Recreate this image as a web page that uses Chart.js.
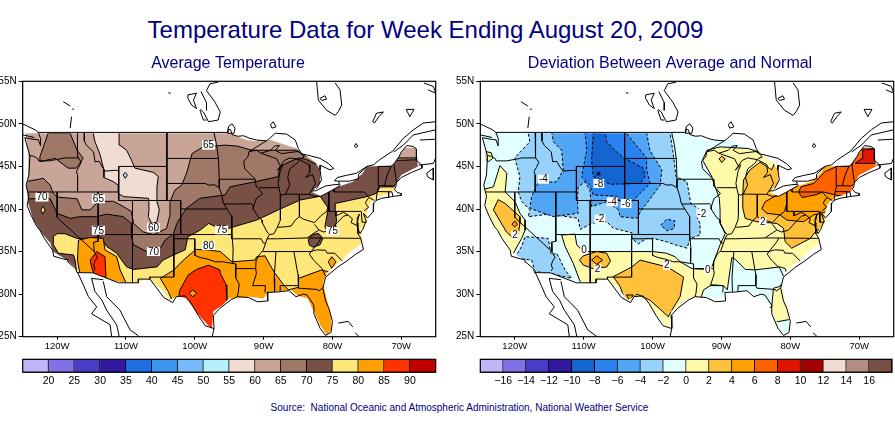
<!DOCTYPE html>
<html><head><meta charset="utf-8">
<style>
html,body{margin:0;padding:0;background:#fff;width:895px;height:423px;overflow:hidden}
canvas{position:absolute}
.t{position:absolute;left:0;width:895px;text-align:center;color:#000080;font-family:"Liberation Sans",Arial,sans-serif;white-space:nowrap}
#main{top:15px;font-size:24px;line-height:30px;left:-22px}
#src{top:401px;font-size:10px;line-height:14px;left:12px}
</style>
<script src="https://cdn.jsdelivr.net/npm/chart.js@4/dist/chart.umd.min.js"></script>
</head><body>
<div class="t" id="main">Temperature Data for Week Ending August 20, 2009</div>
<div class="t" id="src">Source:&nbsp; National Oceanic and Atmospheric Administration, National Weather Service</div>
<canvas id="mapL" width="456" height="305" style="left:0;top:50px"></canvas>
<canvas id="mapR" width="450" height="305" style="left:445px;top:50px"></canvas>
<canvas id="barL" width="458" height="40" style="left:0;top:355px"></canvas>
<canvas id="barR" width="450" height="40" style="left:445px;top:355px"></canvas>
<script>
const xTickValues=[-120,-110,-100,-90,-80,-70];
const yTickValues=[25,30,35,40,45,50,55];
const barLabelsL=['20','25','30','35','40','45','50','55','60','65','70','75','80','85','90'];
const barColorsL=['#c0b4fa','#8270e6','#4b3cc8','#3219a0','#1e6ee6','#3c96f0','#78b9fa','#b4f0fa','#f0dcd2','#c8a596','#a07868','#785046','#ffe678','#ffa000','#ff3200','#c00000'];
const barLabelsR=['−16','−14','−12','−10','−8','−6','−4','−2','0','2','4','6','8','10','12','14','16'];
const barColorsR=['#c0b4fa','#8270e6','#4b3cc8','#3219a0','#1464d2','#2882f0','#50a5f5','#96d2fa','#e1ffff','#fffaaa','#ffc03c','#ffa000','#ff6000','#e11400','#a50000','#f0dcd2','#b48c82','#785046'];

// Land area that carries data (lon, lat)
const landOutline=[[-124.6,48.9],[-124.2,46.7],[-124.2,43.4],[-124.5,42.7],[-124.2,40.7],[-123.45,38.7],[-122.2,37.15],[-121,36],[-120.6,35],[-118.6,34],[-117.4,33.2],[-117,32.6],[-114.8,32.5],[-111.6,31.5],[-109,31.3],[-106.8,31.8],[-105,30.7],[-103.6,29.3],[-102.5,29.8],[-101.2,29.5],[-99.6,27.7],[-98,26.3],[-97.5,26],[-97.3,28],[-96,28.7],[-95,29.5],[-92,29.7],[-90,29.5],[-89.5,30.2],[-86,30.5],[-85,29.8],[-83.6,29.5],[-81.8,26.4],[-80.8,25.2],[-80.2,25.8],[-80.2,27.3],[-81.4,31.4],[-80.8,32.5],[-77,35.2],[-75.7,36],[-75.9,37.5],[-75,38.5],[-75,39.5],[-74.5,40.7],[-73.6,41.3],[-71.2,42],[-70.9,42.8],[-70,44],[-67.6,45],[-67.8,47.2],[-69.5,47.2],[-71.2,45.1],[-75,45],[-75.6,44.2],[-77,43.2],[-79.2,42.6],[-81.7,41.5],[-83,42],[-81.8,43],[-81.8,44.6],[-82.5,45.5],[-84,46.3],[-85.2,47.1],[-89,48.1],[-91.5,48],[-92.5,48.1],[-95,48.9]];
const outerBox=[[-130,60],[-60,60],[-60,20],[-130,20],[-130,60]];

// Coast, lake and border lines
const coastPacific=[[-117.12,32.53],[-117.3,33],[-118.4,33.75],[-118.5,34.03],[-119.2,34.15],[-120.5,34.45],[-120.65,35.15],[-121.9,36.6],[-122.5,37.5],[-123,38],[-123.8,39.3],[-124.35,40.4],[-124.1,41.5],[-124.5,42.8],[-124.1,44],[-123.95,46.2],[-124.7,48.38],[-123.2,48.15],[-122.75,48.15],[-122.4,47.4],[-122.4,48.3],[-122.75,49],[-123.2,49.3],[-124.5,49.8],[-125.5,50.2]];
const coastIsland=[[-123.3,48.4],[-125.5,48.8]];
const coastAtlantic=[[-67,45.15],[-67,44.8],[-68.5,44.3],[-70,43.7],[-70.7,43.1],[-70.8,42.6],[-71,42.3],[-70.6,41.95],[-70,41.8],[-70,41.6],[-71,41.5],[-71.4,41.45],[-72.9,41.25],[-73.65,41],[-74,40.7],[-74,40.4],[-74.1,39.7],[-74.9,38.95],[-75.5,39.5],[-75.1,38.6],[-75.6,37.6],[-76,37.1],[-76.4,37.9],[-76.4,38.9],[-76.1,39.4],[-76.4,38.4],[-76.3,37.1],[-75.9,36.6],[-75.5,35.25],[-76.6,34.7],[-77.9,33.9],[-79.2,33.2],[-81,32],[-81.4,30.7],[-81,29.2],[-80.5,28.3],[-80,26.8],[-80.2,25.5],[-81,25.15],[-81.8,26],[-82.7,27.7],[-82.7,28.7],[-83.7,29.9],[-84.2,30],[-85.3,29.7],[-86.3,30.4],[-88,30.25],[-89.5,30.2],[-89.4,29.2],[-90.9,29.1],[-92.2,29.6],[-93.8,29.7],[-94.8,29.3],[-96.4,28.3],[-97.3,27.5],[-97.2,26],[-97.6,24.5]];
const borderMexico=[[-97.2,25.95],[-98.5,26.3],[-99.5,27.5],[-100.5,28.9],[-101.4,29.8],[-102.7,29.7],[-103.2,29],[-104.5,29.6],[-106.5,31.75],[-108.2,31.78],[-108.2,31.33],[-111.07,31.33],[-114.8,32.5],[-117.12,32.53]];
const bajaWest=[[-117.05,32.6],[-116.2,31.1],[-115.45,29.7],[-114.25,28.5],[-115,27.7],[-112.3,26.4],[-112,24.5]];
const bajaGulf=[[-113.3,31.7],[-115,31.85],[-114.5,30.3],[-113.5,29.3],[-112.8,28.1],[-111.35,26.4],[-110.85,24.5]];
const sonoraCoast=[[-113.3,31.5],[-112.8,29.7],[-110.85,28.1],[-110.4,27.35],[-109.4,25.8],[-108.2,25.1],[-107.8,24.5]];
const bahamasA=[[-79.15,26.6],[-77.7,26.8],[-77.05,26.15]];
const bahamasB=[[-76.7,25.45],[-76.1,25]];
const border49=[[-122.75,49],[-95.15,49],[-95.15,49.38],[-94.8,49.3],[-94.6,48.75],[-93.8,48.55],[-92.9,48.6],[-92,48.3],[-91,48.1],[-89.6,48]];
const superiorNorth=[[-92.1,46.75],[-91,47.3],[-89.6,48],[-89.1,48.3],[-88.3,48.9],[-86.65,48.8],[-85.4,48.1],[-84.95,47.1],[-84.5,46.5]];
const superiorSouth=[[-92.1,46.75],[-91,46.9],[-90.4,46.55],[-89,46.9],[-88.4,47.4],[-87.7,47.45],[-88.3,46.9],[-87.4,46.5],[-86,46.65],[-85,46.75],[-84.5,46.5],[-84.1,46.1],[-84.7,45.9]];
const michiganWest=[[-84.8,45.8],[-86.2,46],[-87,45.7],[-88,44.55],[-87.2,45.2],[-87.6,44.4],[-87.9,43],[-87.6,41.8],[-87.2,41.62],[-86.8,41.8],[-86.2,42.8],[-86.5,43.7],[-86.2,44.7],[-85.1,45.4],[-84.8,45.8],[-83.4,45.2],[-83.3,44.3],[-83.9,43.7],[-82.9,44.05],[-82.45,43],[-83.1,42.1],[-83.45,41.72],[-82.7,41.5],[-81.7,41.5],[-80.5,42],[-79,42.7],[-78.9,42.9]];
const erieNorth=[[-83.1,42.1],[-82.4,42.15],[-81,42.7],[-79.8,42.85],[-79,42.9],[-79.1,43.27],[-77.5,43.27],[-76.2,43.55],[-76.2,44.1],[-75,44.95]];
const ontarioNorth=[[-79.1,43.27],[-79.7,43.3],[-79.3,43.7],[-78,43.95],[-76.5,44.2],[-75,45],[-74,45.2],[-73.3,45.7],[-71.25,46.8],[-69.7,48.3],[-68.25,49.3],[-66.8,50.1],[-65,50.25]];
const stLawrenceSouth=[[-71.1,46.7],[-69.7,47.5],[-68.25,48.7],[-65,49.3]];
const huronEast=[[-84.5,46.5],[-83,46.2],[-81.8,45.95],[-80.6,45.35],[-79.8,44.75],[-80.35,44.6],[-81.8,45.15],[-81.8,44.6],[-81.6,43.4],[-82.3,42.4]];
const chaleur=[[-67.3,48.1],[-65,48.2]];
const fundy=[[-67.5,45.15],[-65.35,45.35],[-65,46]];
const novaScotia=[[-66.3,44.2],[-65.35,44.8],[-65.35,43.4],[-66.2,43.8],[-66.3,44.2]];
const anticosti=[[-66.7,54.8],[-65.35,54.4],[-65,53.6],[-66.1,54]];
const jamesWest=[[-82.3,55],[-82.05,52.8],[-80.85,51.6],[-79.6,51],[-79.15,51.45],[-78.65,52.2],[-78.9,54],[-79.6,54.8]];
const jamesIsle=[[-81.8,53],[-81.1,53.3],[-80.85,52.9],[-81.55,52.75],[-81.8,53]];
const lakeLong=[[-74.15,50.25],[-73.6,51.25],[-72.6,51.4],[-73.2,50.9],[-73.9,50.1],[-74.15,50.25]];
const lakeRing=[[-69.3,51.7],[-68.15,51.7],[-68.75,50.85],[-69.3,51.7]];
const lakeJean=[[-76.8,47.4],[-76.6,47.7],[-76.3,47.4],[-76.6,47.2],[-76.8,47.4]];
const lakeNipigon=[[-89,49.9],[-88.6,50.25],[-88.2,49.65],[-88.8,49.5],[-89,49.9]];
const lakeWoods=[[-95.25,48.9],[-95.1,49.7],[-94.6,50],[-94.15,49.5],[-94.3,48.9],[-95.25,48.9]];
const lakeWinnipeg=[[-96.6,54.9],[-97.8,54.7],[-98.3,53.9],[-97.1,52.6],[-96.3,51.4],[-96.6,50.45],[-98,50.25],[-98.75,51.4],[-99.2,51.7]];
const lakeWinnipegW=[[-99.1,53.8],[-98.3,52.5],[-98.3,51.6]];
const lakeManitoba=[[-101,53.4],[-99.75,53.6],[-100.2,52.8],[-99.75,51.8],[-100.45,52.2],[-101,53],[-101,53.4]];
const lakeSmall=[[-99.25,51.6],[-98.75,50.45],[-98.3,50.45]];
const lakeDash=[[-103.85,53.65],[-103.5,53.6]];
const bcLakeA=[[-119.1,52.6],[-118.1,52.1]];
const bcLakeB=[[-117.8,51.75],[-117.55,51.7]];
const bcLakeC=[[-117.9,50.85],[-118.1,49.5]];
const coastLines=[coastPacific,coastIsland,coastAtlantic,borderMexico,bajaWest,bajaGulf,sonoraCoast,bahamasA,bahamasB,border49,superiorNorth,superiorSouth,michiganWest,erieNorth,ontarioNorth,stLawrenceSouth,huronEast,chaleur,fundy,novaScotia,anticosti,jamesWest,jamesIsle,lakeLong,lakeRing,lakeJean,lakeNipigon,lakeWoods,lakeWinnipeg,lakeWinnipegW,lakeManitoba,lakeSmall,lakeDash,bcLakeA,bcLakeB,bcLakeC];

const stateLines=[
[[-124,46.27],[-123.4,46.2],[-122.8,45.9],[-122.7,45.65],[-121.2,45.65],[-119.3,45.93],[-119,46],[-116.92,46]],
[[-117.04,49],[-117.04,46.4],[-116.92,46],[-116.5,45.5],[-116.85,44.9],[-117.2,44.4],[-117.03,44],[-117.03,42]],
[[-124.2,42],[-111.05,42]],
[[-111.05,42],[-111.05,41],[-109.05,41],[-109.05,31.33]],
[[-120,42],[-120,39],[-114.6,35]],
[[-114.04,42],[-114.04,36.2],[-114.7,36.1],[-114.6,35],[-114.15,34.3],[-114.5,33.9],[-114.7,33.4],[-114.5,33],[-114.72,32.72]],
[[-114.04,37],[-94.62,37]],
[[-103.04,37],[-103.04,32],[-106.6,32],[-106.53,31.78]],
[[-103.04,36.5],[-100,36.5],[-100,34.56],[-99.2,34.3],[-98.1,34.1],[-97,33.8],[-96,33.8],[-94.05,33.55],[-94.05,33],[-94.05,31.9],[-93.55,31.2],[-93.7,30.1],[-93.85,29.7]],
[[-94.62,37],[-94.43,35.4],[-94.48,33.64]],
[[-94.05,33],[-91.15,33]],
[[-111.05,45],[-104.05,45]],
[[-116.05,49],[-116.05,48],[-115.7,47.45],[-114.7,46.7],[-114.5,45.55],[-113.9,45.6],[-113.45,44.95],[-113,44.45],[-111.5,44.55],[-111.05,44.5]],
[[-111.05,45],[-111.05,42]],
[[-104.05,49],[-104.05,41]],
[[-104.05,45.94],[-96.56,45.94]],
[[-104.05,43],[-98.5,43],[-97.9,42.8],[-97.2,42.85],[-96.45,42.5]],
[[-109.05,41],[-102.05,41],[-102.05,37]],
[[-102.05,40],[-95.3,40]],
[[-97.23,49],[-96.85,47.6],[-96.56,45.94],[-96.45,43.5],[-96.45,42.5],[-96.1,41.7],[-95.85,40.7],[-95.3,40],[-94.62,39.1],[-94.62,36.5]],
[[-96.45,43.5],[-91.22,43.5]],
[[-92.1,46.75],[-92.3,46.1],[-92.9,45.6],[-92.75,44.75],[-91.22,43.5],[-91.1,42.7],[-90.15,41.8],[-91.1,41.2],[-91.42,40.38],[-91.5,40],[-90.7,39],[-90.2,38.7],[-90.2,38.4],[-89.5,37.3],[-89.15,37],[-89.5,36.5],[-89.7,36],[-90.1,35.1],[-90.6,34.7],[-91.1,33.9],[-91.15,33],[-91.05,32.4],[-91.6,31],[-89.75,31],[-89.8,30.2]],
[[-95.77,40.58],[-91.73,40.61],[-91.42,40.38]],
[[-94.62,36.5],[-90.35,36.5],[-90.05,36],[-89.7,36]],
[[-90.65,42.5],[-87.8,42.5]],
[[-87.53,41.7],[-87.53,39.35],[-87.6,38.7],[-88,37.9]],
[[-89.15,37],[-88.5,37.1],[-88,37.85],[-87,37.9],[-86,38],[-85.4,38.7],[-84.8,39.1],[-84.2,38.8],[-83.6,38.65],[-82.6,38.4],[-81.7,39.2],[-80.85,39.7],[-80.52,40.64]],
[[-84.8,41.7],[-84.8,39.1]],
[[-87,41.75],[-83.45,41.72]],
[[-80.52,42],[-80.52,39.72],[-75.8,39.72]],
[[-79.76,42.27],[-79.76,42],[-75.35,42],[-74.7,41.36],[-75.1,40.9],[-75.2,40.65],[-74.75,40.2],[-75.4,39.8]],
[[-74.7,41.36],[-73.9,41]],
[[-73.65,41],[-73.5,42.05],[-73.26,42.75],[-73.35,45]],
[[-72.46,42.73],[-72.05,44],[-71.5,45]],
[[-73.26,42.75],[-71.3,42.7],[-70.8,42.87]],
[[-73.5,42.05],[-71.38,42.02],[-71.2,41.5]],
[[-71.8,42.02],[-71.85,41.32]],
[[-71.08,45.3],[-70.7,43.1]],
[[-73.35,45],[-71.5,45],[-71.08,45.3],[-70.3,46.2],[-70,46.7],[-69.2,47.45],[-68.3,47.35],[-67.8,47.05],[-67.8,45.7],[-67,45.15]],
[[-89.5,36.5],[-88,36.5],[-83.68,36.6],[-81.68,36.59],[-75.9,36.55]],
[[-90.15,35],[-83.1,35],[-82,36.1],[-81.68,36.59]],
[[-88.2,35],[-88.47,31.9],[-88.4,30.3]],
[[-85.6,35],[-85.15,32.9],[-85,32.3],[-85,31],[-84.86,30.7],[-82.2,30.55],[-82.05,30.36],[-81.45,30.7]],
[[-87.6,30.3],[-87.6,31],[-85,31]],
[[-83.1,35],[-83.35,34.7],[-82.75,34],[-81.5,33],[-81,32.1]],
[[-83.1,35],[-82.3,35.2],[-81,35.15],[-80.8,34.82],[-79.67,34.8],[-78.55,33.87]],
[[-82.6,38.2],[-81.97,37.54],[-83.68,36.6]],
[[-81.97,37.54],[-81.3,37.3],[-80.3,37.5],[-79.3,38.4],[-78.4,39.15],[-77.75,39.3],[-77.1,38.85],[-77.3,38.4],[-76.3,38]],
[[-79.48,39.72],[-79.48,39.2],[-78.4,39.6],[-77.75,39.3]],
[[-75.8,39.72],[-75.7,38.45],[-75.05,38.45]],
[[-90.4,46.55],[-88.1,45.9],[-87.6,45.1]]
];

// Average temperature bands (lon, lat)
const temp65NW=[[-122.5,46.15],[-121.3,48.9],[-118.1,48.9],[-117.1,46.9],[-116.2,45.95],[-117.2,44.8],[-118.4,44.8],[-120.3,45.95],[-122.5,45.56]];
const temp55=[[-114.8,49.1],[-114.5,47.9],[-113.8,46.5],[-113.2,44.6],[-113.2,43.7],[-111.8,43.2],[-111.1,42.8],[-111.1,41.8],[-110.3,41.45],[-106.7,41.25],[-106.65,39.9],[-106.75,39.1],[-106.25,38.3],[-105.5,38.5],[-105.15,39.9],[-105.5,40.85],[-105.5,42.6],[-105.3,43.8],[-106,44.3],[-108.7,44.8],[-109.2,45.75],[-109.9,46.9],[-110.9,47.5],[-111,49.1]];
const temp50=[[-110.4,44],[-110.1,44.3],[-109.8,44],[-110.1,43.6]];
const temp65=[[-126,43.2],[-124.6,43.2],[-122,43.6],[-121,42.8],[-120.6,41.9],[-120,41.4],[-117.1,41.2],[-116.4,39.9],[-115.2,39.9],[-114,40.9],[-111.8,40.9],[-110.4,40.3],[-109.2,39.7],[-108.9,38.3],[-107.5,37.3],[-106,37],[-104.1,37.7],[-103.6,39.3],[-103.6,40.85],[-102.9,42.2],[-101.9,42.8],[-101.2,44.2],[-100.4,46.5],[-98.8,47.3],[-95.6,47.5],[-93.9,47.4],[-91.7,46.9],[-89.1,46.9],[-85.2,46.9],[-84.2,46.3],[-83.5,46.2],[-80,46],[-60,46],[-60,20],[-130,20],[-130,43.2]];
const temp70=[[-130,41.2],[-123.2,41.2],[-121,41.2],[-120,39.5],[-118.1,38.9],[-116.7,39.1],[-114.25,39.1],[-112.8,39.4],[-110.4,39.1],[-109.2,38.3],[-109.2,36.75],[-108.9,35.8],[-107,35],[-105,35.4],[-104.3,36.35],[-103.1,37.1],[-102.6,38.3],[-101.7,39.5],[-101.2,40.1],[-99.25,41.25],[-95.6,41.65],[-94.9,42.6],[-91.25,43.2],[-87.9,43.8],[-87.6,45],[-86.65,45.4],[-84.95,46],[-83.75,45.8],[-82.8,45.4],[-81,45],[-78,45.5],[-60,46],[-60,20],[-130,20]];
const temp75=[[-117.2,20],[-117.15,32.6],[-117.4,34],[-117.6,34.6],[-119.8,34.8],[-120.55,35.8],[-120.55,36.75],[-120,37.1],[-118.85,37.1],[-117.15,36.55],[-115.2,36.55],[-113.75,36.75],[-112.8,35.6],[-111.35,34.8],[-109.9,33.2],[-108.9,32.9],[-105.5,33.2],[-104.6,34],[-103.1,34.6],[-101.4,35.2],[-101,36.75],[-99.25,37.5],[-98,38.3],[-95.85,37.55],[-91,38.7],[-87.85,39.9],[-84.7,41.05],[-81.8,41.5],[-80.6,40.1],[-81.1,37.9],[-80.85,37.5],[-79.65,37.7],[-79.4,38.7],[-79.6,39.9],[-79.6,40.65],[-75,41.45],[-73.6,41.85],[-73.1,42.6],[-70.9,42.6],[-68,42.6],[-60,42],[-60,20]];
const temp70Oval=[[-83.5,36.35],[-83,36.95],[-82.05,37.15],[-81.4,36.55],[-81.8,35.8],[-82.75,35.5],[-83.35,35.75]];
const temp75Spot=[[-122.35,39.9],[-122.1,40.3],[-121.75,39.9],[-122.1,39.4]];
const temp80SW=[[-116.9,36.35],[-115.2,36.65],[-113.3,36.55],[-113.05,35.2],[-111.35,34.4],[-110.85,32.85],[-110,31.35],[-111.6,30.9],[-114.75,32.05],[-116.7,32.45],[-117.05,34]];
const temp85SW=[[-115.2,34],[-114.25,35],[-113.05,34.4],[-112.9,31.85],[-114.5,32.05],[-115,33.2]];
const temp80Gulf=[[-103.1,28.9],[-103.85,30.3],[-105,31.85],[-103.1,32.8],[-101.65,34],[-100.2,35],[-99.75,35.25],[-98.3,35.2],[-96.3,35],[-94.6,33.8],[-91.25,34],[-91,34.4],[-89.8,34.5],[-89.05,33.4],[-88.35,32.45],[-87.1,31.1],[-86.4,30.5],[-84.95,30.8],[-84.95,31.85],[-81.55,32.85],[-80.75,32.65],[-78,32],[-78,24],[-104,24]];
const temp80Oval=[[-80.6,33.8],[-80.1,34.4],[-79.5,33.8],[-80.1,33]];
const temp85Texas=[[-102.15,30.5],[-100.95,32.25],[-99.75,32.9],[-98,33.4],[-96.35,32.85],[-96.3,32.45],[-95.45,31.1],[-95.35,29.4],[-95.3,27],[-97,24],[-101,24],[-102.5,29]];
const temp80Ring=[[-100.8,30.1],[-100.3,30.5],[-99.7,30.1],[-100.3,29.7]];

// Deviation bands (lon, lat)
const devM2North=[[-118.05,50],[-118.05,48.9],[-117.8,47.9],[-120,46],[-119.25,43.8],[-119.5,42],[-119,40.9],[-117.8,39.9],[-118.04,39.1],[-114.9,39.4],[-110.8,38.9],[-110.5,37.6],[-108.85,38.3],[-106.65,38.5],[-105.7,37.75],[-103,37.2],[-103,36.55],[-102.05,35.9],[-100.85,36.55],[-99.9,36.55],[-97.95,36.15],[-96.75,35.8],[-95,35.4],[-94.55,36.55],[-93.1,36.95],[-93.1,38.3],[-93.6,39.1],[-93.1,39.9],[-94.45,40.65],[-95,43.2],[-96.6,43.8],[-97,46.5],[-97.45,48.9],[-97.45,50]];
const devM2SW=[[-120,34.25],[-119,35.6],[-118.5,36.75],[-115.15,36.55],[-114.8,35],[-114.65,34.6],[-113.9,34.8],[-112.7,32.85],[-111.75,31.85],[-114.9,32.45],[-117.05,32.65],[-117.55,34]];
const devM4North=[[-114.65,49.1],[-114.4,47.9],[-113.2,46.9],[-112.95,44.6],[-113.9,43.2],[-116.6,43.1],[-117.55,41.45],[-117.8,40.1],[-114.4,39.1],[-110.8,39.5],[-110.9,41.05],[-110.8,42.6],[-109.8,43.2],[-109.1,42.2],[-108.85,40.3],[-106.65,40.85],[-104.95,39.9],[-104.7,39.1],[-102.3,38.9],[-101.6,39.9],[-100.85,40.65],[-98.9,42.8],[-98.65,44.6],[-100.4,46.9],[-100.85,48.9],[-100.85,49.1]];
const devM4Blob=[[-98.8,38.1],[-97.95,38.8],[-96.75,38.6],[-96.9,37.7],[-97.95,37.45]];
const devM6=[[-109.8,49.1],[-109.55,46.9],[-110.3,43.8],[-109.1,42.8],[-108.6,41.65],[-105.2,41.5],[-104.7,40.85],[-103,40.85],[-101.8,41.85],[-100.35,43],[-100.85,44.6],[-100.85,46],[-103,48.1],[-104,49.1]];
const devM8=[[-108.6,49.1],[-108.85,45.75],[-108.6,43.8],[-106.15,42.9],[-101.8,43],[-101.1,43.8],[-101.35,44.8],[-104.25,46.05],[-105.2,46.7],[-106.65,47.9],[-106.9,49.1]];
const devM10=[[-108.1,44],[-107.85,44.45],[-107.5,44]];
const devP0Oregon=[[-126,42],[-123.1,42.6],[-122.15,45.1],[-121.15,44.2],[-121.4,42],[-119.95,40.85],[-119.25,39.5],[-118.5,38.7],[-118.5,37.5],[-119,36.55],[-120.2,34.8],[-120.7,34.4],[-123,34]];
const devP0Coast=[[-124.2,46.75],[-123.4,46.6],[-123.2,45.95],[-123.85,45.55],[-124.3,45.95]];
const devP2West=[[-123.1,39.9],[-122.4,41.1],[-121.4,40.65],[-119.25,39.1],[-119.25,38.3],[-119.5,36.95],[-120.2,36.55],[-121.2,37.3]];
const devP4Valley=[[-120.4,38.2],[-120,38.6],[-119.6,38.2],[-120,37.9]];
const devP0Central=[[-110.5,20],[-110.5,31.45],[-111.5,33.6],[-112.7,35.6],[-113.2,36.95],[-111.25,37.05],[-111,35.8],[-110.05,35],[-108.1,35],[-103,35],[-99.9,35],[-97.95,34.8],[-96.75,34.4],[-96,33.8],[-94.3,33],[-92.1,32.9],[-91.4,33.2],[-90.2,35.8],[-89.45,37.1],[-90.2,38.3],[-90.2,39.9],[-90.3,41.25],[-90.9,42.6],[-91.4,43.8],[-92.75,45.75],[-92.1,46.9],[-90.2,47.3],[-86.1,47.1],[-84.6,46.7],[-82,46],[-78,45],[-60,46],[-60,20]];
const devZeroGulf=[[-92.6,30.5],[-91.4,31.1],[-89.7,31],[-89.15,30.5],[-88.5,34.3],[-88,34.1],[-86.55,32.9],[-85.1,32.85],[-81.5,33.2],[-80.75,33],[-80.5,32.4],[-81.5,30.9],[-82.45,30.7],[-82.7,28.5],[-84,28],[-92,28.5],[-93,29.5]];
const devZeroFlorida=[[-81.95,26.75],[-80.25,27],[-79,26],[-79,24],[-82,24],[-83,26]];
const devP2Texas=[[-105.7,32.05],[-103,33.2],[-101.8,34],[-97.95,33.2],[-97.45,33],[-95.5,32],[-96,29.7],[-97.2,28.1],[-97.7,27.35],[-100.4,29.3],[-102.3,30],[-103.25,29],[-104,29.3],[-104.7,30.9]];
const devP4Texas=[[-103.8,29.9],[-103.3,29.2],[-102.8,29.9]];
const devP2NM=[[-110.6,34],[-110.05,34.5],[-108.1,35],[-106.65,34.8],[-106.1,33.9],[-106.65,33.2],[-108.6,33],[-110.05,33.4]];
const devP4NM=[[-108.85,34],[-108.1,34.5],[-107.25,34],[-108.1,33.5]];
const devP2East=[[-86.8,43.4],[-85.85,44.6],[-84.4,45.5],[-82.7,44.6],[-82,46],[-60,46],[-60,37.5],[-75,37.5],[-76.15,37.55],[-77.1,36.55],[-79.8,35.4],[-80.75,36.15],[-81,37.75],[-81.95,38.3],[-84.85,38.5],[-86.55,38.9],[-86.9,40.1],[-86.9,41.65]];
const devP2Spot=[[-90.35,45.9],[-89.95,46.2],[-89.45,45.9],[-89.95,45.45]];
const devP4East=[[-84.15,40.05],[-83.65,40.85],[-81.5,41.85],[-79.55,42.45],[-78.85,42.9],[-75.2,45],[-70,46],[-60,46],[-60,40],[-72,40],[-74.7,39.7],[-76.6,39.3],[-78.1,38.5],[-80.5,38.7],[-81.5,39.3],[-83.4,39.5]];
const devP6East=[[-78.8,42],[-78.45,42.6],[-76.6,43],[-74.95,44.4],[-73.25,45],[-71.05,45.2],[-70.6,46.05],[-69.6,47.25],[-67.4,47.1],[-66.5,45],[-66,42],[-71,41.3],[-71.3,41.5],[-73.25,41.6],[-75.2,42],[-76.4,41.65],[-78.3,41.35]];
const devP8Maine=[[-70.6,45.35],[-69.6,45.95],[-69.5,47],[-67.6,47],[-67.4,45.35],[-68.9,45.35]];

// Contour labels: lon, lat, text
const labelsTemp=[[-122.2,41.4,'70'],[-114,41.2,'65'],[-98,47.5,'65'],[-114,37.5,'75'],[-106,37.8,'60'],[-106,35,'70'],[-96.1,37.55,'75'],[-98,35.7,'80'],[-80,37.45,'75']];
const labelsDev=[[-115.85,43.5,'-4'],[-107.8,43,'-8'],[-105.85,40.85,'-4'],[-103.85,40.65,'-6'],[-107.65,38.8,'-2'],[-109.95,35.25,'0'],[-119.95,36.95,'2'],[-108,33,'2'],[-97.95,33.4,'2'],[-92.85,39.5,'-2'],[-84,38.5,'2'],[-92,32.9,'0']];

const FONT='"Liberation Sans",Arial,sans-serif';
const pts=a=>a.map(p=>p?{x:p[0],y:p[1]}:{x:null,y:null});
const join=ls=>ls.flatMap(l=>[...l,null]);
const line=(name,arr)=>({label:name,type:'scatter',showLine:true,pointRadius:0,data:pts(arr),borderColor:'#000',borderWidth:1,fill:false,tension:0});
const poly=(name,arr,c,dash)=>({label:name,type:'scatter',showLine:true,pointRadius:0,tension:0,data:pts([...arr,arr[0]]),backgroundColor:c,borderColor:'#000',borderWidth:1,borderDash:dash?[3,2]:[],fill:'shape'});
const overlay=()=>[
 {label:'mask',type:'scatter',showLine:true,pointRadius:0,tension:0,data:pts([...outerBox,...landOutline,landOutline[0],outerBox[0]]),backgroundColor:'#fff',borderWidth:0,fill:'shape'},
 line('states',join(stateLines)),
 line('coast',join(coastLines))
];
const framePlugin={id:'frame',afterDraw(c){const a=c.chartArea,x=c.ctx;x.save();x.strokeStyle='#000';x.lineWidth=1.2;x.strokeRect(a.left,a.top,a.width,a.height);x.restore();}};
const labelPlugin=labels=>({id:'contourLabels',afterDatasetsDraw(c){const x=c.ctx;x.save();x.font='10px '+FONT;x.textAlign='center';x.textBaseline='middle';for(const [lon,lat,t] of labels){const px=c.scales.x.getPixelForValue(lon),py=c.scales.y.getPixelForValue(lat);const w=x.measureText(t).width+2;x.fillStyle='#fff';x.fillRect(px-w/2,py-4.5,w,9);x.fillStyle='#000';x.fillText(t,px,py+.5);}x.restore();}});

function mapChart(id,title,layers,labels,padL,axisW,padR,spacerW){
 const scales={
    x:{type:'linear',min:-125,max:-65,afterBuildTicks:a=>{a.ticks=xTickValues.map(v=>({value:v}));},afterFit:s=>{s.height=18.3;},
     ticks:{callback:v=>(-v)+'W',color:'#000',font:{family:FONT,size:9.5},padding:1,maxRotation:0,autoSkip:false},
     grid:{drawOnChartArea:false,color:'#000',tickLength:3},border:{color:'#000'}},
    y:{type:'linear',min:25,max:55,afterBuildTicks:a=>{a.ticks=yTickValues.map(v=>({value:v}));},afterFit:s=>{s.width=axisW;},
     ticks:{callback:v=>v+'N',color:'#000',font:{family:FONT,size:10},padding:2,autoSkip:false},
     grid:{drawOnChartArea:false,color:'#000',tickLength:4},border:{color:'#000'}}
 };
 if(spacerW){scales.spacer={type:'linear',position:'right',min:0,max:1,ticks:{display:false},grid:{display:false},border:{display:false},afterFit:s=>{s.width=spacerW;}};}
 return new Chart(document.getElementById(id),{type:'scatter',
  data:{datasets:[...layers,...overlay()].reverse()},
  plugins:[framePlugin,labelPlugin(labels)],
  options:{responsive:false,animation:false,events:[],
   layout:{padding:{left:padL,right:padR,top:0,bottom:0}},
   plugins:{legend:{display:false},tooltip:{enabled:false},
    title:{display:true,text:title,color:'#000080',font:{family:FONT,size:16,weight:'normal',lineHeight:1.2},padding:{top:4.4,bottom:7.7}}},
   scales}});
}
function barChart(id,colors,labels,padL,padR){
 return new Chart(document.getElementById(id),{type:'bar',
  data:{labels:[''],datasets:colors.map(c=>({data:[1],backgroundColor:c,borderColor:'#000',borderWidth:1,barPercentage:1,categoryPercentage:1}))},
  plugins:[framePlugin],
  options:{indexAxis:'y',responsive:false,animation:false,events:[],
   layout:{padding:{left:padL,right:padR,top:4.3,bottom:0}},
   plugins:{legend:{display:false},tooltip:{enabled:false}},
   scales:{
    x:{type:'linear',stacked:true,min:0,max:colors.length,afterFit:s=>{s.height=22.7;},
     ticks:{stepSize:1,callback:v=>labels[v-1]??'',color:'#000',font:{family:FONT,size:10.5},padding:3,maxRotation:0,autoSkip:false},
     grid:{display:false,drawTicks:false},border:{display:false}},
    y:{stacked:true,display:false}
   }}});
}
const bg=(c)=>({label:'base',type:'scatter',showLine:true,pointRadius:0,tension:0,data:pts([...outerBox]),backgroundColor:c,borderWidth:0,fill:'shape'});
const tempLayers=[bg('#c8a596'),
 poly('55-60',temp55,'#f0dcd2'),poly('50-55',temp50,'#b4f0fa'),
 poly('65-70 NW',temp65NW,'#a07868'),poly('65-70',temp65,'#a07868'),
 poly('70-75',temp70,'#785046'),poly('75-80 spot',temp75Spot,'#ffe678'),poly('75-80',temp75,'#ffe678'),poly('70-75 oval',temp70Oval,'#785046'),
 poly('80-85 SW',temp80SW,'#ffa000'),poly('85-90 SW',temp85SW,'#ff3200'),
 poly('80-85 gulf',temp80Gulf,'#ffa000'),poly('80-85 oval',temp80Oval,'#ffa000'),poly('85-90',temp85Texas,'#ff3200'),poly('80-85 ring',temp80Ring,'#ffa000')];
const devLayers=[bg('#e1ffff'),
 poly('-4..-2',devM2North,'#96d2fa',true),poly('-4..-2 SW',devM2SW,'#96d2fa',true),
 poly('-6..-4',devM4North,'#50a5f5',true),poly('-6..-4 blob',devM4Blob,'#50a5f5',true),
 poly('-8..-6',devM6,'#2882f0',true),poly('-10..-8',devM8,'#1464d2',true),poly('-12..-10',devM10,'#3219a0',true),
 poly('0-2 OR',devP0Oregon,'#fffaaa'),poly('0-2 coast',devP0Coast,'#fffaaa'),poly('2-4 W',devP2West,'#ffc03c'),poly('4-6 valley',devP4Valley,'#ffa000'),
 poly('0-2',devP0Central,'#fffaaa'),poly('zero gulf',devZeroGulf,'#e1ffff'),poly('zero fl',devZeroFlorida,'#e1ffff'),
 poly('2-4 TX',devP2Texas,'#ffc03c'),poly('4-6 TX',devP4Texas,'#ffa000'),poly('2-4 NM',devP2NM,'#ffc03c'),poly('4-6 NM',devP4NM,'#ffa000'),
 poly('2-4 E',devP2East,'#ffc03c'),poly('2-4 spot',devP2Spot,'#ffc03c'),poly('4-6 E',devP4East,'#ffa000'),poly('6-8 E',devP6East,'#ff6000'),poly('8-10',devP8Maine,'#e11400')];

mapChart('mapL','Average Temperature',tempLayers,labelsTemp,0,22.7,0,20.3);
mapChart('mapR','Deviation Between Average and Normal',devLayers,labelsDev,1.3,34,1.3,0);
barChart('barL',barColorsL,barLabelsL,22.7,22.3);
barChart('barR',barColorsR,barLabelsR,35.3,1.3);
</script>
</body></html>
